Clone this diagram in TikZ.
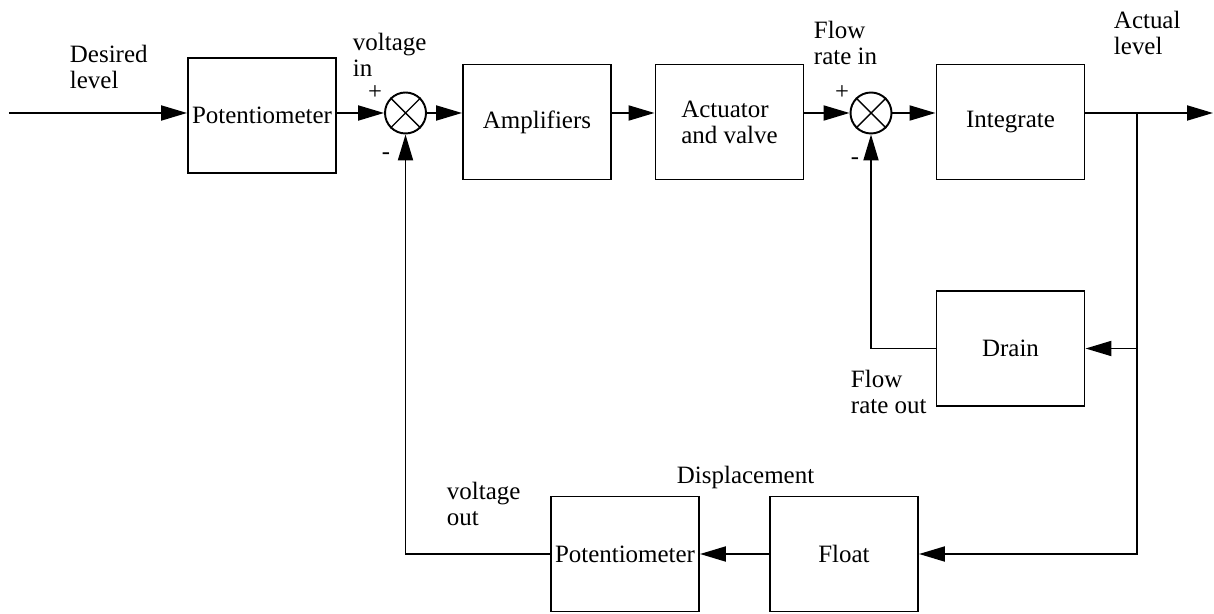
\documentclass[tikz,border=0pt]{standalone}
\usepackage{fontspec}
\setmainfont{Liberation Serif}
\usetikzlibrary{arrows.meta, positioning}
\tikzset{>={Triangle[length=0.52cm,width=0.3cm]}}
\tikzset{blk/.style={draw, minimum width=2.96cm, minimum height=2.3cm, inner sep=0pt},
         sum/.style={draw, circle, minimum size=0.82cm, inner sep=0pt},
         lbl/.style={anchor=west, align=left, inner sep=0pt},
         sgn/.style={inner sep=0pt, font=\fontsize{14}{14}\selectfont}}

\begin{document}
\begin{tikzpicture}[line width=1.1pt, font=\fontsize{14.2}{14.8}\selectfont]
        \useasboundingbox (0,0) rectangle (24.28,-12.28);

        \coordinate (in) at (0.18,-2.26);
        \node[blk] (P1) at (5.24,-2.31) {Potentiometer};
        \node[sum] (S1) at (8.11,-2.26) {};
        \node[blk] (A) at (10.74,-2.44) {Amplifiers};
        \node[blk, align=left] (V) at (14.59,-2.44) {Actuator\\and valve};
        \node[sum] (S2) at (17.42,-2.26) {};
        \node[blk] (I) at (20.21,-2.44) {Integrate};
        \node[blk] (D) at (20.21,-6.97) {Drain};
        \node[blk] (F) at (16.88,-11.08) {Float};
        \node[blk] (P2) at (12.5,-11.08) {Potentiometer};
        \coordinate (br) at (22.74,-2.26);
        \coordinate (out) at (24.26,-2.26);

        \draw[line width=0.8pt] (S1.north west)--(S1.south east) (S1.north east)--(S1.south west);
        \draw[line width=0.8pt] (S2.north west)--(S2.south east) (S2.north east)--(S2.south west);

        \draw [->] (in)--(in -| P1.west);
        \draw [->] (P1.east |- S1)--(S1.west);
        \draw [->] (S1.east)--(S1.east -| A.west);
        \draw [->] (A.east |- S1)--(S1 -| V.west);
        \draw [->] (V.east |- S2)--(S2.west);
        \draw [->] (S2.east)--(S2.east -| I.west);
        \draw [->] (I.east |- S2)--(out);
        \draw [->] (br) |- (F.east);
        \draw [->] (br |- D.east)--(D.east);
        \draw [->] (D.west) -| (S2.south);
        \draw [->] (F.west)--(P2.east);
        \draw [->] (P2.west) -| (S1.south);

        \node[lbl] (des) at (1.38,-1.34) {Desired\\level};
        \node[lbl] (vin) at (7.04,-1.10) {voltage\\in};
        \node[sgn] (p1) at (7.5,-1.86) {+};
        \node[sgn] (m1) at (7.72,-3.12) {-};
        \node[lbl] (fin) at (16.26,-0.86) {Flow\\rate in};
        \node[sgn] (p2) at (16.84,-1.86) {+};
        \node[sgn] (m2) at (17.1,-3.22) {-};
        \node[lbl] (act) at (22.26,-0.65) {Actual\\level};
        \node[lbl] (fout) at (17.0,-7.84) {Flow\\rate out};
        \node[lbl] (disp) at (13.52,-9.54) {Displacement};
        \node[lbl] (vout) at (8.92,-10.08) {voltage\\out};
\end{tikzpicture}
\end{document}
